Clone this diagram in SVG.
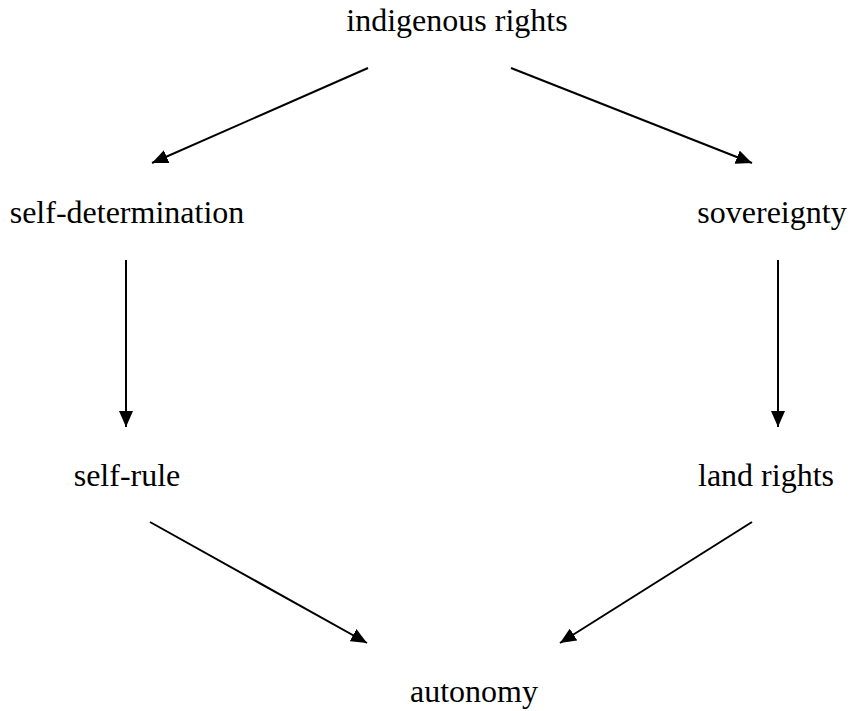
<svg xmlns="http://www.w3.org/2000/svg" width="850" height="711" viewBox="0 0 850 711">
<style>
text{font-family:"Liberation Serif","Times New Roman",serif;font-size:32px;fill:#000;text-anchor:middle}
.c line{stroke:#000;stroke-width:2;marker-end:url(#ah)}
</style>
<defs>
<marker id="ah" viewBox="0 0 16 14" refX="16" refY="7" markerWidth="16" markerHeight="14" markerUnits="userSpaceOnUse" orient="auto">
<path d="M0,0 L16,7 L0,14 Z" fill="#000"/>
</marker>
</defs>
<rect width="850" height="711" fill="#fff"/>
<g id="n1"><text x="457" y="31">indigenous rights</text></g>
<g id="n2"><text x="127" y="223">self-determination</text></g>
<g id="n3"><text x="772" y="223">sovereignty</text></g>
<g id="n4"><text x="127" y="486">self-rule</text></g>
<g id="n5"><text x="766" y="486">land rights</text></g>
<g id="n6"><text x="474" y="702">autonomy</text></g>
<g class="c">
<line x1="368" y1="68" x2="152" y2="163"/>
<line x1="511" y1="68" x2="752" y2="163"/>
<line x1="126" y1="260" x2="126" y2="427"/>
<line x1="778" y1="260" x2="778" y2="427"/>
<line x1="150" y1="522" x2="367" y2="643"/>
<line x1="752" y1="522" x2="560" y2="643"/>
</g>
</svg>
